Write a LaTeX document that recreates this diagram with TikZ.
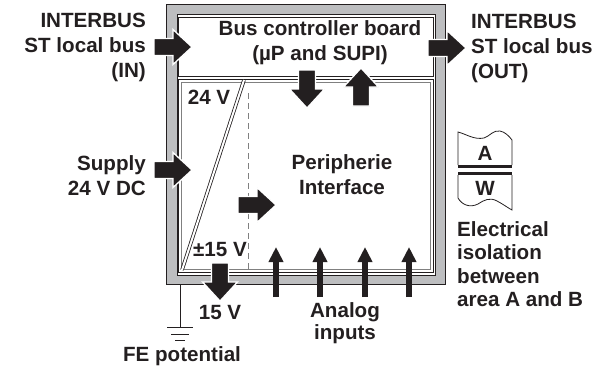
\documentclass[tikz,border=0pt]{standalone}
\usepackage{fontspec}
\setmainfont{Liberation Sans}
\usetikzlibrary{arrows.meta}
\definecolor{ink}{HTML}{231F20}
\definecolor{framegray}{HTML}{BDBEC0}

\begin{document}
\begin{tikzpicture}[x=1bp, y=-1bp, line join=miter]
	\tikzstyle{txt} = [font=\bfseries\fontsize{20.6bp}{25bp}\selectfont, text=ink, inner sep=0pt];
	\tikzstyle{thinline} = [draw=ink, line width=0.8bp];
	\tikzstyle{inarrow} = [draw=ink, line width=5.5bp, -{Triangle[length=15bp, width=14bp]}];
	\tikzset{blockarrow/.pic={
		\filldraw[fill=ink, draw=white, line width=1.3bp] (0,-8.5) -- (19,-8.5) -- (19,-17.5) -- (38,0) -- (19,17.5) -- (19,8.5) -- (0,8.5) -- cycle;
	}}

	\useasboundingbox (0,0) rectangle (606,373);

	% housing
	\fill[framegray, even odd rule] (166,4) rectangle (445,284) (177,14) rectangle (435,275);
	\draw[thinline] (166,4) rectangle (445,284);
	\draw[thinline] (177,14) rectangle (435,275);

	\draw[thinline] (178,17) rectangle (433,76);
	\draw[thinline] (178,79) rectangle (433,272);
	\draw[draw=gray, line width=0.6bp] (181,82) rectangle (430,269);
	\draw[thinline, double=white, double distance=2bp] (244,80) -- (182,270);
	\draw[gray, line width=0.8bp, dash pattern=on 6bp off 4bp] (248,93) -- (248,269);

	% texts
	\node[txt, anchor=east, align=right] (inbus) at (146,47) {INTERBUS\\ST local bus\\(IN)};
	\node[txt, anchor=west, align=left] (outbus) at (471,48) {INTERBUS\\ST local bus\\(OUT)};
	\node[txt, align=center] (board) at (320,43) {Bus controller board\\(µP and SUPI)};
	\node[txt, anchor=east, align=right] (supply) at (146,176) {Supply\\24 V DC};
	\node[txt] (v24) at (209,97) {24 V};
	\node[txt, align=center] (periph) at (342,175) {Peripherie\\Interface};
	\node[txt] (v15pm) at (220,250) {±15 V};
	\node[txt] (v15) at (220,313) {15 V};
	\node[txt] (fe) at (182,356) {FE potential};
	\node[txt, align=center, font=\bfseries\fontsize{20.6bp}{22bp}\selectfont] (analog) at (345,323) {Analog\\inputs};
	\node[txt, anchor=west, align=left, font=\bfseries\fontsize{20.6bp}{23.5bp}\selectfont] (isol) at (457,264) {Electrical\\isolation\\between\\area A and B};

	% block arrows
	\pic (inarr) at (154,47) {blockarrow};
	\pic (outarr) at (428,48) {blockarrow};
	\pic (suparr) at (154,170) {blockarrow};
	\pic[rotate=-90] (downarr) at (307,70) {blockarrow};
	\pic[rotate=90] (uparr) at (361,106) {blockarrow};
	\pic (perarr) at (238,205) {blockarrow};
	\pic[rotate=-90] (lowarr) at (220,263) {blockarrow};

	% analog inputs
	\foreach \x [count=\i] in {276,320,365,409} {
		\coordinate (ain\i) at (\x,297);
		\coordinate (aout\i) at (\x,247);
		\draw[inarrow] (ain\i) -- (aout\i);
	}

	% ground
	\coordinate (gtop) at (180,284);
	\coordinate (gnd) at (180,327);
	\draw[thinline] (gtop) -- (gnd);
	\draw[thinline] (167,327) -- (193,327);
	\draw[thinline] (171,334) -- (189,334);
	\draw[thinline] (175,340) -- (185,340);

	% isolation symbol
	\draw[thinline] (458,165) -- (458,132) .. controls (466,134) and (474,140) .. (484,138) .. controls (490,136) and (493,130) .. (500,131) .. controls (505,132) and (509,136) .. (512,140) -- (512,165);
	\fill[ink] (458,164.5) rectangle (512,168);
	\fill[ink] (458,171.5) rectangle (512,175);
	\draw[thinline] (458,175) -- (458,198) .. controls (462,205) and (470,208) .. (478,204) .. controls (484,200) and (490,197) .. (497,201) .. controls (503,204) and (508,208) .. (512,210) -- (512,175);
	\node[txt] (areaa) at (485,153) {A};
	\node[txt] (areaw) at (485,188) {W};
\end{tikzpicture}
\end{document}
